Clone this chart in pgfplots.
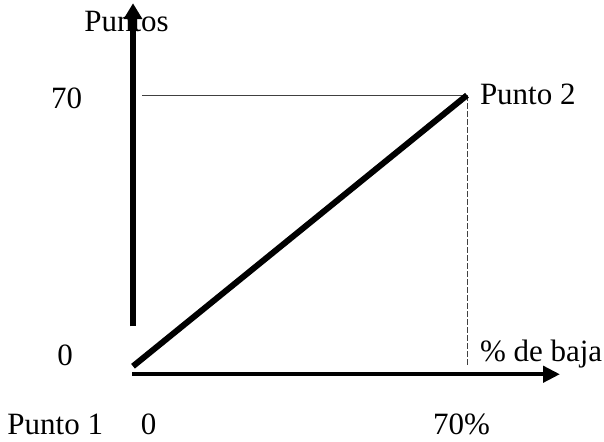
\documentclass[border=0pt]{standalone}
\usepackage{fontspec}
\setmainfont{Liberation Serif}
\usepackage{pgfplots}
\pgfplotsset{compat=1.18}
\usetikzlibrary{arrows.meta}
\newcommand{\bigf}{\fontsize{31}{36}\selectfont}
\begin{document}
\bigf
\begin{tikzpicture}[lbl/.style={font=\bigf, inner sep=0pt, outer sep=0pt}]
\begin{axis}[x=4.771pt, y=3.871pt, xmin=-27.88, xmax=98.72, ymin=-19.37, ymax=93.77,
  hide axis, clip=false]
\path (rel axis cs:0,0) rectangle (rel axis cs:1,1);
% labels
\node[lbl, anchor=base] at (axis cs:-1.36,86.54) {Puntos};
\node[lbl, anchor=base east] at (axis cs:-10.69,66.65) {70};
\node[lbl, anchor=base east] at (axis cs:-12.58,0.26) {0};
\node[lbl, anchor=base east] at (axis cs:-6.29,-17.6) {Punto 1};
\node[lbl, anchor=base] at (axis cs:3.25,-17.6) {0};
\node[lbl, anchor=base east] at (axis cs:74.83,-17.6) {70\%};
\node[lbl, anchor=base west] at (axis cs:72.73,1.29) {\% de baja};
\node[lbl, anchor=base west] at (axis cs:72.73,67.68) {Punto 2};
% guide lines
\draw[black!75, line width=0.9pt] (axis cs:1.9,70) -- (axis cs:70,70);
\draw[black!75, line width=0.9pt, dash pattern=on 6pt off 2pt] (axis cs:70,70) -- (axis cs:70,0);
% axes
\draw[line width=6.5pt, -{Triangle[length=16pt, width=18pt]}] (axis cs:0,10.3) -- (axis cs:0,93.77);
\draw[line width=4.5pt, -{Triangle[length=17pt, width=16pt]}] (axis cs:-0.2,-2.07) -- (axis cs:89.5,-2.07);
% data
\addplot[black, line width=6pt] coordinates {(0,0) (70,70)};
\end{axis}
\end{tikzpicture}
\end{document}
